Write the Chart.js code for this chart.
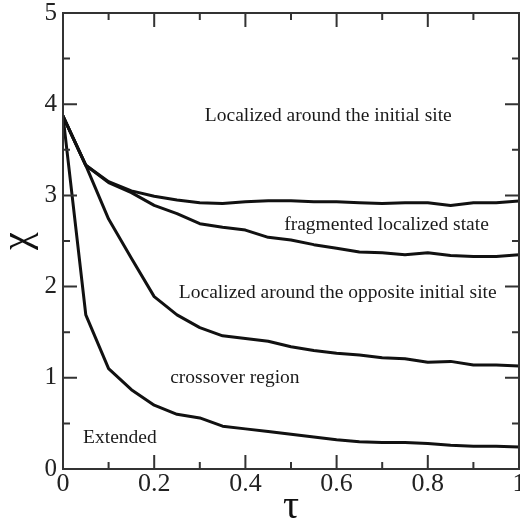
<!DOCTYPE html>
<html>
<head>
<meta charset="utf-8">
<script src="https://cdn.jsdelivr.net/npm/chart.js@4.4.0/dist/chart.umd.min.js"></script>
<style>
  html, body { margin: 0; padding: 0; background: #fff; }
  #wrap { width: 520px; height: 523px; }
</style>
</head>
<body>
<div id="wrap"><canvas id="c" width="520" height="523"></canvas></div>
<script>
// ---- data ----
const tau = [0, 0.05, 0.1, 0.15, 0.2, 0.25, 0.3, 0.35, 0.4, 0.45, 0.5, 0.55, 0.6, 0.65, 0.7, 0.75, 0.8, 0.85, 0.9, 0.95, 1];
const chiInitialSite   = [3.87, 3.33, 3.15, 3.05, 2.99, 2.95, 2.92, 2.91, 2.93, 2.94, 2.94, 2.93, 2.93, 2.92, 2.91, 2.92, 2.92, 2.89, 2.92, 2.92, 2.94];
const chiFragmented    = [3.87, 3.33, 3.14, 3.03, 2.89, 2.80, 2.69, 2.65, 2.62, 2.54, 2.51, 2.46, 2.42, 2.38, 2.37, 2.35, 2.37, 2.34, 2.33, 2.33, 2.35];
const chiOppositeSite  = [3.87, 3.33, 2.74, 2.31, 1.89, 1.69, 1.55, 1.46, 1.43, 1.40, 1.34, 1.30, 1.27, 1.25, 1.22, 1.21, 1.17, 1.18, 1.14, 1.14, 1.13];
const chiCrossover     = [3.87, 1.69, 1.10, 0.87, 0.70, 0.60, 0.56, 0.47, 0.44, 0.41, 0.38, 0.35, 0.32, 0.30, 0.29, 0.29, 0.28, 0.26, 0.25, 0.25, 0.24];

const xMajorTicks = [0, 0.2, 0.4, 0.6, 0.8, 1];
const xTickLabels = ["0", "0.2", "0.4", "0.6", "0.8", "1"];
const xMinorTicks = [0.1, 0.3, 0.5, 0.7, 0.9];
const yMajorTicks = [0, 1, 2, 3, 4, 5];
const yTickLabels = ["0", "1", "2", "3", "4", "5"];
const yMinorTicks = [0.5, 1.5, 2.5, 3.5, 4.5];

const regionLabels = ["Localized around the initial site", "fragmented localized state", "Localized around the opposite initial site", "crossover region", "Extended"];
const regionLabelTau = [0.311, 0.485, 0.254, 0.235, 0.044];
const regionLabelChi = [3.82, 2.62, 1.87, 0.94, 0.29];

const xTitle = "\u03C4";
const yTitle = "\u03C7";

// ---- chart ----
const SERIF = '"Liberation Serif", "Times New Roman", serif';
const AXIS_COLOR = '#333';

function pts(ys) { return tau.map((t, i) => ({ x: t, y: ys[i] })); }
const lineStyle = { borderColor: '#111', borderWidth: 3, pointRadius: 0, tension: 0, fill: false, borderJoinStyle: 'round', borderCapStyle: 'round' };

function noPad(s) { s.paddingLeft = 0; s.paddingRight = 0; s.paddingTop = 0; s.paddingBottom = 0; }

const framePlugin = {
  id: 'frame',
  afterDatasetsDraw(chart) {
    const { ctx, chartArea: a, scales } = chart;
    const xs = scales.x, ys = scales.y;
    ctx.save();
    ctx.strokeStyle = AXIS_COLOR;
    ctx.lineWidth = 2;
    ctx.beginPath();
    const tickSet = (vals, len, horiz) => {
      vals.forEach(v => {
        if (horiz) {
          const px = xs.getPixelForValue(v);
          ctx.moveTo(px, a.bottom); ctx.lineTo(px, a.bottom - len);
          ctx.moveTo(px, a.top); ctx.lineTo(px, a.top + len);
        } else {
          const py = ys.getPixelForValue(v);
          ctx.moveTo(a.left, py); ctx.lineTo(a.left + len, py);
          ctx.moveTo(a.right, py); ctx.lineTo(a.right - len, py);
        }
      });
    };
    tickSet(xMajorTicks, 14, true);
    tickSet(xMinorTicks, 7, true);
    tickSet(yMajorTicks, 14, false);
    tickSet(yMinorTicks, 7, false);
    ctx.stroke();
    ctx.strokeRect(a.left, a.top, a.right - a.left, a.bottom - a.top);
    // region annotations
    ctx.fillStyle = '#1a1a1a';
    ctx.font = '19.5px ' + SERIF;
    ctx.textAlign = 'left';
    ctx.textBaseline = 'alphabetic';
    regionLabels.forEach((txt, i) => {
      ctx.fillText(txt, xs.getPixelForValue(regionLabelTau[i]), ys.getPixelForValue(regionLabelChi[i]));
    });
    ctx.restore();
  }
};

new Chart(document.getElementById('c'), {
  type: 'line',
  data: {
    datasets: [
      Object.assign({ label: 'initial site', data: pts(chiInitialSite) }, lineStyle),
      Object.assign({ label: 'fragmented', data: pts(chiFragmented) }, lineStyle),
      Object.assign({ label: 'opposite site', data: pts(chiOppositeSite) }, lineStyle),
      Object.assign({ label: 'crossover', data: pts(chiCrossover) }, lineStyle)
    ]
  },
  options: {
    responsive: false,
    animation: false,
    events: [],
    layout: { padding: { top: 13, right: 1, left: 0, bottom: 0 }, autoPadding: false },
    plugins: { legend: { display: false }, tooltip: { enabled: false } },
    scales: {
      x: {
        type: 'linear', min: 0, max: 1,
        afterBuildTicks(s) { s.ticks = xMajorTicks.map(v => ({ value: v })); },
        afterFit(s) { s.height = 54; noPad(s); },
        grid: { display: false, drawTicks: false },
        border: { display: false },
        ticks: { color: '#222', padding: 0, maxRotation: 0, autoSkip: false, font: { family: SERIF, size: 26 },
                 callback: (v, i) => xTickLabels[i] },
        title: { display: true, text: xTitle, color: '#111', font: { family: SERIF, size: 40, lineHeight: 0.8 }, padding: { top: 0, bottom: 0 } }
      },
      y: {
        min: 0, max: 5,
        afterBuildTicks(s) { s.ticks = yMajorTicks.map(v => ({ value: v })); },
        afterFit(s) { s.width = 63; noPad(s); },
        grid: { display: false, drawTicks: false },
        border: { display: false },
        ticks: { color: '#222', padding: 6, font: { family: SERIF, size: 25 },
                 callback: (v, i) => yTickLabels[i] },
        title: { display: true, text: yTitle, color: '#111', font: { family: SERIF, size: 40, lineHeight: 0.9 }, padding: { top: 0, bottom: 0 } }
      }
    }
  },
  plugins: [framePlugin]
});
</script>
</body>
</html>
